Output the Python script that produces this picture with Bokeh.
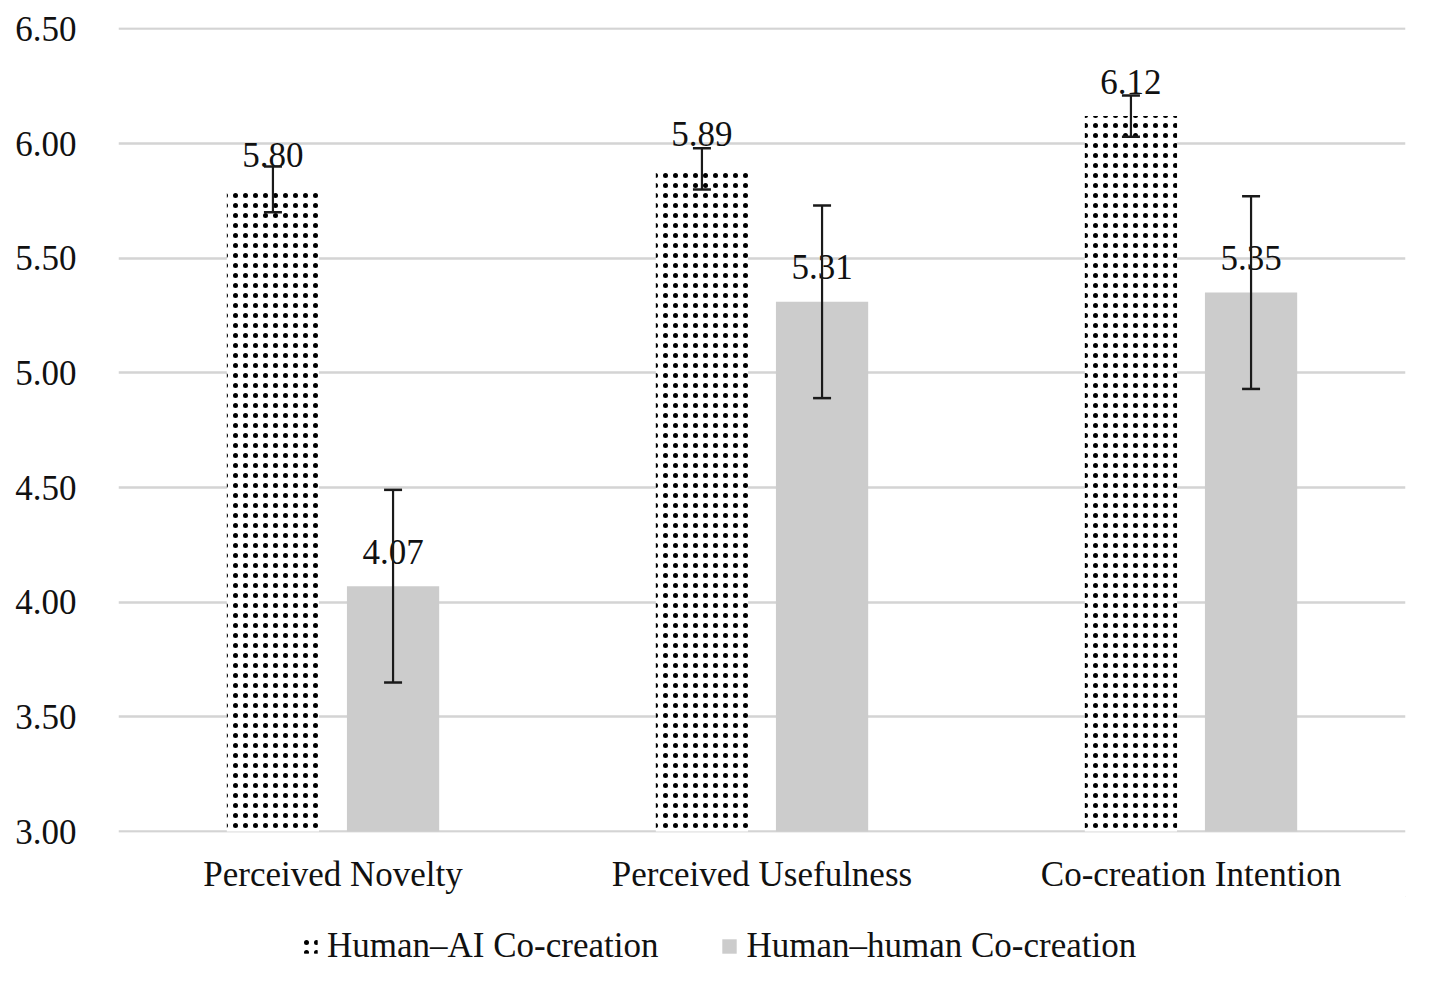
from bokeh.plotting import figure
from bokeh.models import ColumnDataSource, FixedTicker, NumeralTickFormatter, Legend, LegendItem, Whisker, TeeHead, Range1d
from bokeh.layouts import column
from bokeh.transform import dodge
from bokeh.core.properties import value
from bokeh.embed import file_html
from bokeh.resources import INLINE

categories = ["Perceived Novelty", "Perceived Usefulness", "Co-creation Intention"]
ai_means = [5.80, 5.89, 6.12]
ai_err = [0.10, 0.09, 0.09]
hh_means = [4.07, 5.31, 5.35]
hh_err = [0.42, 0.42, 0.42]
y_ticks = [3.0, 3.5, 4.0, 4.5, 5.0, 5.5, 6.0, 6.5]
series_names = ["Human\u2013AI Co-creation", "Human\u2013human Co-creation"]

FONT = "Liberation Serif"
FS = "35px"

src = ColumnDataSource(dict(
    cat=categories,
    ai=ai_means,
    ai_lo=[m - e for m, e in zip(ai_means, ai_err)],
    ai_hi=[m + e for m, e in zip(ai_means, ai_err)],
    ai_lab=[f"{m:.2f}" for m in ai_means],
    ai_laby=[m + 0.15 for m in ai_means],
    hh=hh_means,
    hh_lo=[m - e for m, e in zip(hh_means, hh_err)],
    hh_hi=[m + e for m, e in zip(hh_means, hh_err)],
    hh_lab=[f"{m:.2f}" for m in hh_means],
    hh_laby=[m + 0.15 for m in hh_means],
))

AI_STYLE = dict(fill_color="white", line_color=None,
                hatch_pattern="dot", hatch_color="black", hatch_scale=10, hatch_weight=2.3)
HH_STYLE = dict(fill_color="#cccccc", line_color=None)

chart = figure(x_range=categories, y_range=Range1d(2.996, 6.506), frame_width=1287, frame_height=805,
               output_backend="svg", toolbar_location=None,
               min_border_left=118, min_border_right=16, min_border_top=27, min_border_bottom=60)
chart.outline_line_color = None
chart.background_fill_color = "white"
chart.border_fill_color = "white"

OFF = 0.14
W = 0.215
chart.vbar(x=dodge("cat", -OFF, range=chart.x_range), top="ai", bottom=3.0, width=W, source=src, **AI_STYLE)
chart.vbar(x=dodge("cat", OFF, range=chart.x_range), top="hh", bottom=3.0, width=W, source=src, **HH_STYLE)

for base, lo, hi in [(dodge("cat", -OFF, range=chart.x_range), "ai_lo", "ai_hi"),
                     (dodge("cat", OFF, range=chart.x_range), "hh_lo", "hh_hi")]:
    w = Whisker(source=src, base=base, lower=lo, upper=hi, line_color="#1a1a1a", line_width=2.2,
                level="overlay",
                upper_head=TeeHead(size=18, line_color="#1a1a1a", line_width=2.5),
                lower_head=TeeHead(size=18, line_color="#1a1a1a", line_width=2.5))
    chart.add_layout(w)

chart.text(x=dodge("cat", -OFF, range=chart.x_range), y="ai_laby", text="ai_lab", source=src,
           text_align="center", text_baseline="middle", text_font=value(FONT),
           text_font_size=FS, text_color="#111111")
chart.text(x=dodge("cat", OFF, range=chart.x_range), y="hh_laby", text="hh_lab", source=src,
           text_align="center", text_baseline="middle", text_font=value(FONT),
           text_font_size=FS, text_color="#111111")

chart.yaxis.ticker = FixedTicker(ticks=y_ticks)
chart.yaxis.formatter = NumeralTickFormatter(format="0.00")
chart.yaxis.axis_line_color = None
chart.yaxis.major_tick_line_color = None
chart.yaxis.minor_tick_line_color = None
chart.yaxis.major_label_standoff = 36
chart.yaxis.major_label_text_font = FONT
chart.yaxis.major_label_text_font_size = FS
chart.yaxis.major_label_text_color = "#111111"

chart.xaxis.axis_line_color = None
chart.xaxis.major_tick_line_color = None
chart.xaxis.minor_tick_line_color = None
chart.xaxis.major_label_standoff = 16
chart.xaxis.major_label_text_font = FONT
chart.xaxis.major_label_text_font_size = FS
chart.xaxis.major_label_text_color = "#111111"

chart.xgrid.grid_line_color = None
chart.ygrid.grid_line_color = "#d4d4d4"
chart.ygrid.grid_line_width = 2.5

# legend strip (its renderers reuse the data but fall outside this strip's ranges)
leg = figure(width=1421, height=90, output_backend="svg", toolbar_location=None,
             x_range=Range1d(0, 1), y_range=Range1d(0, 1),
             x_axis_location=None, y_axis_location=None,
             min_border_left=0, min_border_right=0, min_border_top=0, min_border_bottom=0)
leg.outline_line_color = None
leg.xgrid.grid_line_color = None
leg.ygrid.grid_line_color = None
r1 = leg.vbar(x="ai", top="ai", bottom="ai", width=0.001, source=src, **AI_STYLE)
r2 = leg.vbar(x="hh", top="hh", bottom="hh", width=0.001, source=src, **HH_STYLE)
legend = Legend(items=[LegendItem(label=series_names[0], renderers=[r1]),
                       LegendItem(label=series_names[1], renderers=[r2])],
                orientation="horizontal", location=(183, 20),
                label_text_font=FONT, label_text_font_size=FS, label_text_color="#111111",
                glyph_width=18, glyph_height=18, label_standoff=8, spacing=62,
                padding=4, border_line_color=None, background_fill_alpha=0, margin=0)
leg.add_layout(legend, "center")

p = column(chart, leg, spacing=0)
open("out.html", "w").write(file_html(p, INLINE))
